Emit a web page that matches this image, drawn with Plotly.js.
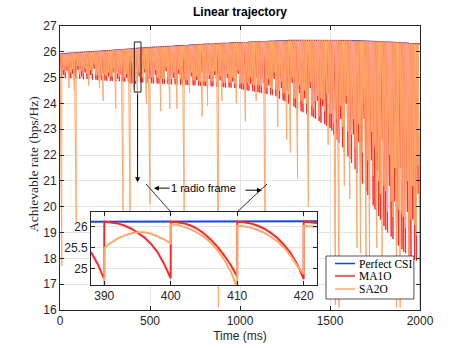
<!DOCTYPE html>
<html lang="en">
<head>
  <meta charset="UTF-8" />
  <title>Linear trajectory</title>
  <script src="https://cdn.jsdelivr.net/npm/plotly.js-dist@3.0.1/plotly.min.js"></script>
  <style>
    body { margin: 0; background: #fff; }
    #chart { width: 464px; height: 348px; }
  </style>
</head>
<body>
<div id="chart"></div>
<script>
  // one radio frame = 10 ms, 200 frames over the 2 s trajectory
  const frameLength = 10;

  // Perfect CSI rate at every frame boundary (0, 10, ..., 2000 ms)
  const perfectCsi = [
    25.91, 25.92, 25.92, 25.93, 25.93, 25.94, 25.95, 25.95, 25.96, 25.96,
    25.97, 25.97, 25.98, 25.98, 25.99, 25.99, 26.00, 26.00, 26.01, 26.01,
    26.02, 26.02, 26.03, 26.03, 26.04, 26.04, 26.05, 26.05, 26.06, 26.06,
    26.07, 26.07, 26.08, 26.08, 26.09, 26.09, 26.10, 26.10, 26.11, 26.11,
    26.12, 26.12, 26.13, 26.13, 26.14, 26.14, 26.14, 26.15, 26.15, 26.16,
    26.16, 26.17, 26.17, 26.18, 26.18, 26.19, 26.19, 26.20, 26.20, 26.21,
    26.21, 26.21, 26.22, 26.22, 26.23, 26.23, 26.23, 26.24, 26.24, 26.25,
    26.25, 26.25, 26.26, 26.26, 26.27, 26.27, 26.27, 26.28, 26.28, 26.29,
    26.29, 26.29, 26.30, 26.30, 26.31, 26.31, 26.31, 26.32, 26.32, 26.33,
    26.33, 26.33, 26.34, 26.34, 26.34, 26.35, 26.35, 26.35, 26.36, 26.36,
    26.36, 26.36, 26.37, 26.37, 26.37, 26.38, 26.38, 26.38, 26.39, 26.39,
    26.39, 26.39, 26.40, 26.40, 26.40, 26.41, 26.41, 26.41, 26.41, 26.42,
    26.42, 26.42, 26.42, 26.43, 26.43, 26.43, 26.43, 26.44, 26.44, 26.44,
    26.44, 26.44, 26.44, 26.44, 26.45, 26.45, 26.45, 26.45, 26.45, 26.45,
    26.45, 26.45, 26.45, 26.45, 26.45, 26.45, 26.45, 26.45, 26.45, 26.45,
    26.45, 26.45, 26.45, 26.45, 26.45, 26.44, 26.44, 26.44, 26.44, 26.44,
    26.44, 26.44, 26.43, 26.43, 26.43, 26.43, 26.43, 26.42, 26.42, 26.42,
    26.42, 26.42, 26.41, 26.41, 26.41, 26.40, 26.40, 26.40, 26.39, 26.39,
    26.39, 26.39, 26.38, 26.38, 26.37, 26.37, 26.37, 26.36, 26.36, 26.35,
    26.35, 26.35, 26.34, 26.34, 26.33, 26.33, 26.32, 26.32, 26.31, 26.31,
    26.30
  ];

  // rate reached at the end of each frame (just before the next update)
  const ma1oDip = [
    25.00, 25.10, 24.98, 25.25, 25.02, 24.97, 25.15, 25.00, 24.96, 25.30,
    24.95, 25.05, 24.94, 25.20, 24.95, 24.93, 25.10, 24.92, 25.35, 24.92,
    24.90, 25.00, 24.90, 25.15, 24.89, 24.88, 25.05, 24.88, 24.87, 25.20,
    24.86, 24.95, 24.86, 25.10, 24.85, 24.85, 25.00, 24.84, 24.76, 24.78,
    24.82, 24.76, 24.83, 25.05, 24.82, 24.81, 25.20, 24.80, 24.80, 24.95,
    24.78, 24.78, 25.10, 24.77, 24.77, 24.95, 24.76, 24.76, 25.25, 24.75,
    24.75, 24.74, 25.00, 24.74, 24.73, 25.15, 24.73, 24.72, 24.90, 24.72,
    24.71, 24.71, 25.05, 24.70, 24.70, 24.90, 24.69, 24.68, 25.20, 24.68,
    24.67, 24.67, 24.95, 24.66, 24.66, 25.10, 24.65, 24.64, 24.90, 24.64,
    24.63, 24.62, 25.00, 24.62, 24.61, 24.85, 24.60, 24.60, 25.15, 24.58,
    24.55, 24.53, 24.90, 24.51, 24.50, 24.75, 24.48, 24.46, 25.00, 24.44,
    24.42, 24.40, 24.80, 24.38, 24.36, 24.70, 24.34, 24.32, 24.95, 24.28,
    24.22, 24.18, 24.60, 24.12, 24.08, 24.50, 24.00, 23.96, 24.80, 23.88,
    23.82, 23.78, 24.40, 23.70, 23.66, 24.20, 23.60, 23.56, 24.60, 23.50,
    23.45, 23.40, 24.10, 23.32, 23.26, 23.90, 23.20, 23.14, 24.40, 23.05,
    22.95, 22.80, 23.70, 22.60, 22.48, 23.40, 22.30, 22.15, 24.00, 21.95,
    21.85, 21.70, 22.80, 21.45, 21.30, 22.50, 21.05, 20.90, 23.40, 20.60,
    20.45, 20.30, 21.80, 20.05, 19.90, 21.40, 19.65, 19.50, 22.60, 19.25,
    19.10, 19.00, 20.80, 18.85, 18.75, 20.20, 18.60, 18.50, 21.50, 18.35,
    18.25, 18.20, 19.80, 18.10, 18.05, 19.50, 17.95, 17.90, 20.50, 17.20
  ];

  const sa2oDip = [
    17.70, 25.30, 25.20, 25.40, 24.60, 25.20, 25.35, 24.50, 19.40, 25.45,
    25.15, 25.25, 25.15, 25.35, 25.15, 24.70, 25.30, 25.15, 25.50, 25.10,
    25.10, 24.60, 25.10, 24.10, 25.10, 25.05, 25.20, 25.05, 25.05, 25.35,
    23.80, 25.15, 25.05, 25.25, 19.85, 25.00, 25.15, 25.00, 19.00, 25.61,
    24.55, 24.88, 24.40, 25.20, 25.00, 25.00, 25.35, 24.00, 25.00, 20.10,
    25.00, 25.00, 25.30, 25.00, 24.95, 23.70, 24.95, 24.95, 25.40, 24.95,
    23.80, 24.95, 25.20, 24.95, 23.80, 25.30, 24.95, 24.90, 19.50, 24.90,
    24.90, 24.40, 25.20, 24.90, 24.88, 25.05, 24.88, 24.85, 23.50, 24.85,
    24.85, 23.90, 25.10, 24.85, 24.85, 25.25, 24.82, 16.10, 25.05, 24.10,
    24.80, 24.80, 25.15, 24.80, 24.80, 25.00, 24.78, 24.00, 25.30, 24.75,
    24.80, 24.75, 23.30, 24.80, 24.70, 25.00, 24.75, 24.70, 24.10, 24.70,
    24.70, 24.65, 25.00, 18.00, 24.60, 24.95, 24.60, 24.55, 25.20, 24.55,
    23.10, 24.50, 24.85, 24.40, 24.40, 22.60, 24.35, 22.10, 25.00, 24.20,
    24.20, 21.10, 24.70, 24.10, 24.00, 24.50, 24.00, 20.00, 24.85, 23.90,
    23.80, 24.10, 24.30, 23.50, 24.20, 24.15, 23.70, 24.40, 22.40, 23.60,
    23.60, 23.20, 16.20, 23.40, 16.10, 23.90, 23.10, 20.80, 24.30, 22.90,
    20.30, 22.80, 23.40, 22.30, 18.40, 23.20, 18.20, 22.10, 24.00, 17.90,
    21.80, 17.90, 22.90, 21.20, 22.30, 18.40, 21.00, 20.50, 17.40, 20.80,
    20.60, 19.80, 22.00, 20.20, 19.60, 21.50, 16.10, 19.90, 16.10, 19.70,
    19.60, 19.20, 21.00, 17.90, 19.50, 20.80, 19.30, 18.90, 21.60, 16.00
  ];

  // zoomed-in view, 388..422 ms
  const insetTime = [
    388, 389, 389.99,
    390, 391, 392, 393, 394, 395, 396, 397, 398, 399, 399.99,
    400, 401, 402, 403, 404, 405, 406, 407, 408, 409, 409.99,
    410, 411, 412, 413, 414, 415, 416, 417, 418, 419, 419.99,
    420, 421, 422
  ];
  const insetMa1o = [
    25.40, 25.12, 24.76,
    26.12, 26.10, 26.08, 26.03, 25.96, 25.86, 25.75, 25.60, 25.40, 25.12, 24.78,
    26.12, 26.11, 26.08, 26.03, 25.95, 25.84, 25.70, 25.53, 25.33, 25.10, 24.82,
    26.12, 26.11, 26.08, 26.03, 25.96, 25.86, 25.74, 25.58, 25.38, 25.12, 24.76,
    26.12, 26.11, 26.09
  ];
  const insetSa2o = [
    24.00, 22.00, 19.00,
    25.50, 25.62, 25.72, 25.79, 25.84, 25.87, 25.87, 25.84, 25.77, 25.70, 25.61,
    26.06, 26.05, 26.00, 25.94, 25.86, 25.76, 25.63, 25.45, 25.23, 24.95, 24.55,
    26.02, 26.01, 25.98, 25.93, 25.86, 25.77, 25.66, 25.51, 25.32, 25.08, 24.88,
    26.02, 26.01, 26.00
  ];
  const insetPerfectTime = [388, 422];
  const insetPerfect = [26.12, 26.13];

  const seriesNames = ['Perfect CSI', 'MA1O', 'SA2O'];

  const blue = 'rgb(20,70,230)';
  const red = 'rgb(255,40,40)';
  const orange = 'rgb(255,168,108)';
  const seriesColors = [blue, red, orange];
  const axisColor = 'rgb(38,38,38)';
  const gridColor = 'rgb(228,228,228)';
  const sans = 'Liberation Sans, Arial, sans-serif';
  const serif = 'Liberation Serif, Times New Roman, serif';

  // each frame: starts at the perfect CSI rate and decays to the dip value
  function sawtooth(dips) {
    const x = [], y = [];
    dips.forEach((d, i) => {
      x.push(i * frameLength, (i + 1) * frameLength - 0.01);
      y.push(perfectCsi[i], d);
    });
    return { x, y };
  }

  const ma1o = sawtooth(ma1oDip);
  const sa2o = sawtooth(sa2oDip);

  const traces = [
    { x: perfectCsi.map((_, i) => i * frameLength), y: perfectCsi, type: 'scatter', mode: 'lines',
      name: seriesNames[0], line: { color: blue, width: 1.2 } },
    { x: ma1o.x, y: ma1o.y, type: 'scatter', mode: 'lines', name: seriesNames[1],
      line: { color: red, width: 1 } },
    { x: sa2o.x, y: sa2o.y, type: 'scatter', mode: 'lines', name: seriesNames[2],
      line: { color: orange, width: 1 } },
    // inset
    { x: insetPerfectTime, y: insetPerfect, xaxis: 'x2', yaxis: 'y2', type: 'scatter', mode: 'lines',
      line: { color: blue, width: 2 } },
    { x: insetTime, y: insetMa1o, xaxis: 'x2', yaxis: 'y2', type: 'scatter', mode: 'lines',
      line: { color: red, width: 2 } },
    { x: insetTime, y: insetSa2o, xaxis: 'x2', yaxis: 'y2', type: 'scatter', mode: 'lines',
      line: { color: orange, width: 2 } }
  ];

  const axisCommon = {
    showline: true, mirror: 'ticks', linecolor: axisColor, linewidth: 1,
    ticks: 'inside', ticklen: 4, tickcolor: axisColor,
    showgrid: true, gridcolor: gridColor, gridwidth: 1, zeroline: false,
    tickfont: { family: sans, size: 12, color: axisColor }, automargin: false
  };

  // legend drawn by hand so its box matches the small MATLAB one
  const legendRows = [0.1637, 0.1197, 0.0739];
  const legendShapes = [
    { type: 'rect', xref: 'paper', yref: 'paper', x0: 0.7389, x1: 0.983, y0: 0.0387, y1: 0.1901,
      fillcolor: '#fff', line: { color: axisColor, width: 0.8 } }
  ];
  const legendLabels = [];
  seriesNames.forEach((name, i) => {
    legendShapes.push({ type: 'line', xref: 'paper', yref: 'paper', x0: 0.7639, x1: 0.8194,
      y0: legendRows[i], y1: legendRows[i], line: { color: seriesColors[i], width: 1.5 } });
    legendLabels.push({ xref: 'paper', yref: 'paper', x: 0.825, y: legendRows[i], xanchor: 'left',
      yanchor: 'middle', text: name, showarrow: false, font: { family: serif, size: 11.5, color: '#000' } });
  });

  const layout = {
    width: 464, height: 348,
    margin: { l: 60, r: 44, t: 26, b: 38 },
    paper_bgcolor: '#fff', plot_bgcolor: '#fff',
    showlegend: false,
    title: { text: '<b>Linear trajectory</b>', font: { family: sans, size: 12, color: '#000' },
             x: 0.5, xref: 'paper', y: 0.966, yref: 'container', yanchor: 'middle' },
    xaxis: Object.assign({}, axisCommon, {
      domain: [0, 1], range: [0, 2000], tickvals: [0, 500, 1000, 1500, 2000],
      title: { text: 'Time (ms)', font: { family: sans, size: 12, color: axisColor }, standoff: 4 }
    }),
    yaxis: Object.assign({}, axisCommon, { domain: [0, 1], range: [16, 27], dtick: 1 }),
    xaxis2: Object.assign({}, axisCommon, {
      domain: [0.0861, 0.7139], anchor: 'y2', range: [388, 422], tickvals: [390, 400, 410, 420]
    }),
    yaxis2: Object.assign({}, axisCommon, {
      domain: [0.088, 0.345], anchor: 'x2', range: [24.62, 26.35], tickvals: [25, 25.5, 26]
    }),
    shapes: [
      // white backing for the inset
      { type: 'rect', xref: 'x2', yref: 'y2', x0: 388, x1: 422, y0: 24.62, y1: 26.35,
        fillcolor: '#fff', line: { width: 0 }, layer: 'below' },
      // zoom box on the main axes
      { type: 'rect', xref: 'x', yref: 'y', x0: 413, x1: 450, y0: 24.44, y1: 26.38,
        line: { color: '#222', width: 1 } },
      // lines from the inset ticks to the frame label
      { type: 'line', xref: 'x', yref: 'y', x0: 616.7, y0: 19.79, x1: 477.8, y1: 20.88,
        line: { color: '#000', width: 0.8 } },
      { type: 'line', xref: 'x', yref: 'y', x0: 983.3, y0: 19.79, x1: 1150, y1: 20.88,
        line: { color: '#000', width: 0.8 } }
    ].concat(legendShapes),
    annotations: [
      { xref: 'paper', yref: 'paper', x: -0.075, y: 0.514, xanchor: 'center', yanchor: 'middle',
        textangle: -90, showarrow: false,
        text: 'Achievable rate (bps/Hz)', font: { family: serif, size: 13.5, color: axisColor } },
      { x: 431, y: 20.95, ax: 431, ay: 24.44, axref: 'x', ayref: 'y', xref: 'x', yref: 'y',
        text: '', showarrow: true, arrowhead: 2, arrowsize: 1, arrowwidth: 1, arrowcolor: '#000' },
      { x: 522, y: 20.72, ax: 797, ay: 20.72, axref: 'x', ayref: 'y', xref: 'x', yref: 'y',
        text: '1 radio frame', font: { family: sans, size: 11, color: '#000' },
        showarrow: true, arrowhead: 2, arrowsize: 1, arrowwidth: 1, arrowcolor: '#000' },
      { x: 1122, y: 20.64, ax: 1022, ay: 20.64, axref: 'x', ayref: 'y', xref: 'x', yref: 'y',
        text: '', showarrow: true, arrowhead: 2, arrowsize: 1, arrowwidth: 1, arrowcolor: '#000' }
    ].concat(legendLabels)
  };

  Plotly.newPlot('chart', traces, layout, { displayModeBar: false, staticPlot: true });
</script>
</body>
</html>
